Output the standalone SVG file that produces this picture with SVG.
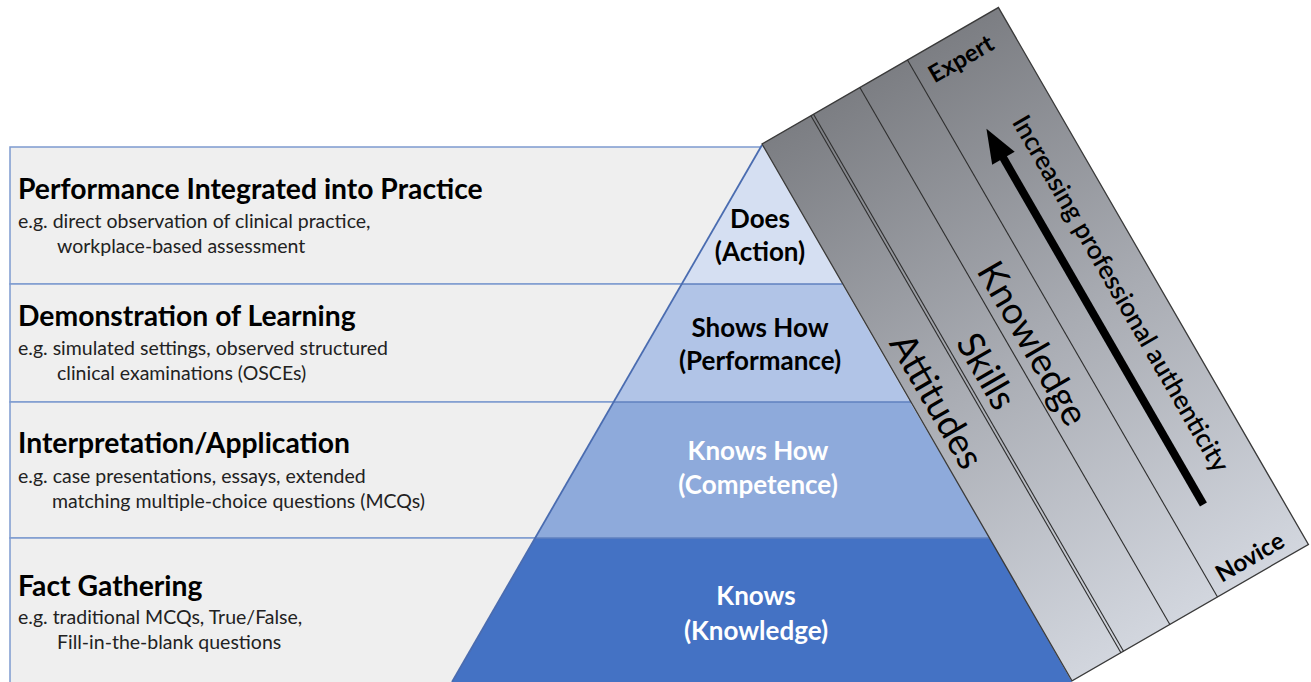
<svg xmlns="http://www.w3.org/2000/svg" width="1311" height="682" viewBox="0 0 1311 682">
<defs>
<linearGradient id="bandGrad" gradientUnits="userSpaceOnUse" x1="0" y1="0" x2="0" y2="620">
<stop offset="0" stop-color="#7c7e83"/>
<stop offset="0.5" stop-color="#a9acb3"/>
<stop offset="1" stop-color="#d2d6de"/>
</linearGradient>
<style>
.panel{fill:#efefef;stroke:#7e9bcf;stroke-width:1.5}
.h{font-family:Lato,"Liberation Sans",sans-serif;font-weight:bold;font-size:28.3px;fill:#000}
.s{font-family:Lato,"Liberation Sans",sans-serif;font-size:19.5px;fill:#222}
.p{font-family:Lato,"Liberation Sans",sans-serif;font-weight:bold;font-size:26px;text-anchor:middle}
.lvl{stroke:#5f80bf;stroke-width:1.5}
.div{stroke:#2e2e2e;stroke-width:1.1;fill:none}
.big{font-family:Lato,"Liberation Sans",sans-serif;font-size:37px;fill:#000;text-anchor:middle}
.lab{font-family:Lato,"Liberation Sans",sans-serif;font-weight:bold;font-size:24px;fill:#000;text-anchor:middle}
</style>
</defs>
<rect width="1311" height="682" fill="#ffffff"/>

<g id="panels">
<rect class="panel" x="10" y="147" width="900" height="137"/>
<rect class="panel" x="10" y="284" width="900" height="118"/>
<rect class="panel" x="10" y="402" width="900" height="136"/>
<rect class="panel" x="10" y="538" width="900" height="160"/>
</g>

<g id="panel-practice">
<text class="h" x="18" y="199">Performance Integrated into Practice</text>
<text class="s" x="18" y="228">e.g. direct observation of clinical practice,</text>
<text class="s" x="57" y="253">workplace-based assessment</text>
</g>
<g id="panel-demonstration">
<text class="h" x="18" y="326">Demonstration of Learning</text>
<text class="s" x="18" y="355">e.g. simulated settings, observed structured</text>
<text class="s" x="57" y="380">clinical examinations (OSCEs)</text>
</g>
<g id="panel-interpretation">
<text class="h" x="18" y="453">Interpretation/Application</text>
<text class="s" x="18" y="483">e.g. case presentations, essays, extended</text>
<text class="s" x="52" y="508">matching multiple-choice questions (MCQs)</text>
</g>
<g id="panel-fact">
<text class="h" x="18" y="596">Fact Gathering</text>
<text class="s" x="18" y="624">e.g. traditional MCQs, True/False,</text>
<text class="s" x="57" y="649">Fill-in-the-blank questions</text>
</g>

<g id="level-does">
<polygon points="762,145 682,284 842,284" fill="#d5dff2"/>
<text class="p" x="760" y="228" fill="#000">Does</text>
<text class="p" x="760" y="261" fill="#000">(Action)</text>
</g>
<g id="level-shows">
<polygon points="682,284 614,402 910,402 842,284" fill="#b1c4e7"/>
<text class="p" x="760" y="337" fill="#000">Shows How</text>
<text class="p" x="760" y="370" fill="#000">(Performance)</text>
</g>
<g id="level-knowshow">
<polygon points="614,402 535,538 990,538 910,402" fill="#8eaadb"/>
<text class="p" x="758" y="460" fill="#fff">Knows How</text>
<text class="p" x="758" y="494" fill="#fff">(Competence)</text>
</g>
<g id="level-knows">
<polygon points="535,538 452,682 1072,682 990,538" fill="#4472c4"/>
<text class="p" x="756" y="605" fill="#fff">Knows</text>
<text class="p" x="756" y="640" fill="#fff">(Knowledge)</text>
</g>
<g id="pyramid-lines">
<line class="lvl" x1="682" y1="284" x2="842" y2="284"/>
<line class="lvl" x1="614" y1="402" x2="910" y2="402"/>
<line class="lvl" x1="535" y1="538" x2="990" y2="538"/>
<line x1="762" y1="145" x2="452" y2="682" stroke="#4a6cb0" stroke-width="1.8"/>
</g>

<g id="band" transform="translate(762,144) rotate(-30)">
<rect x="0" y="0" width="273" height="620" fill="url(#bandGrad)" stroke="#3a3a3a" stroke-width="1.3"/>
<line class="div" x1="56.5" y1="0" x2="56.5" y2="620"/>
<line class="div" x1="59.5" y1="0" x2="59.5" y2="620"/>
<line class="div" x1="113" y1="0" x2="113" y2="620"/>
<line class="div" x1="168" y1="0" x2="168" y2="620"/>
<g id="band-attitudes"><text class="big" transform="translate(10,310) rotate(90)">Attitudes</text></g>
<g id="band-skills"><text class="big" transform="translate(68,309) rotate(90)">Skills</text></g>
<g id="band-knowledge"><text class="big" transform="translate(122,308) rotate(90)">Knowledge</text></g>
<g id="band-axis">
<rect x="198" y="128" width="8" height="405" fill="#000"/>
<polygon points="202,99 189,133 215,133" fill="#000"/>
<text transform="translate(227,309) rotate(90)" text-anchor="middle" font-family="Lato,'Liberation Sans',sans-serif" font-weight="600" font-size="26" fill="#000">Increasing professional authenticity</text>
</g>
<g id="band-expert"><text class="lab" x="215" y="34">Expert</text></g>
<g id="band-novice"><text class="lab" x="216" y="610">Novice</text></g>
</g>
</svg>
